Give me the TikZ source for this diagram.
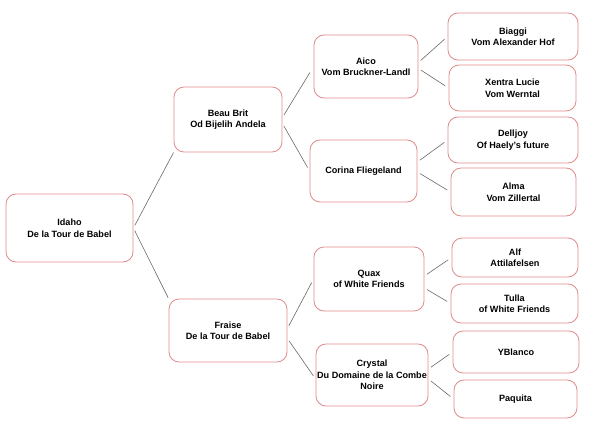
\documentclass[tikz,border=0pt]{standalone}
\usepackage{fontspec}
\setmainfont{Liberation Sans}
\usepackage{xcolor}
\usepackage{tikz}
\usetikzlibrary{calc}
\definecolor{boxred}{RGB}{224,140,140}
\definecolor{linkgrey}{RGB}{105,105,105}
\tikzset{
  dogbox/.style={draw=boxred,line width=0.85pt,rounded corners=10pt,fill=white,
    align=center,inner sep=0pt,
    font=\fontsize{9.1}{11.5}\selectfont\bfseries},
  link/.style={draw=linkgrey,line width=0.6pt,shorten <=3pt,shorten >=4pt}
}

\begin{document}
\begin{tikzpicture}[x=1pt,y=-1pt]
  \useasboundingbox (0,0) rectangle (595,424);
  % generation 1 and 2
  \node[dogbox,minimum width=127pt,minimum height=68pt] (idaho) at (69.5,228)
    {Idaho\\De la Tour de Babel};
  \node[dogbox,minimum width=108pt,minimum height=65pt] (beau) at (228,119.5)
    {Beau Brit\\Od Bijelih Andela};
  \node[dogbox,minimum width=118pt,minimum height=63pt] (fraise) at (228,330.5)
    {Fraise\\De la Tour de Babel};
  % generation 3
  \node[dogbox,minimum width=104pt,minimum height=63pt] (aico) at (366,66.5)
    {Aico\\Vom Bruckner-Landl};
  \node[dogbox,minimum width=107pt,minimum height=62pt] (corina) at (363.5,171)
    {Corina Fliegeland};
  \node[dogbox,minimum width=110pt,minimum height=64pt] (quax) at (369,279)
    {Quax\\of White Friends};
  \node[dogbox,minimum width=112pt,minimum height=62pt] (crystal) at (372,375)
    {Crystal\\Du Domaine de la Combe\\Noire};
  % generation 4
  \node[dogbox,minimum width=130pt,minimum height=47pt] (biaggi) at (513,36.5)
    {Biaggi\\Vom Alexander Hof};
  \node[dogbox,minimum width=127pt,minimum height=46pt] (xentra) at (512.5,88)
    {Xentra Lucie\\Vom Werntal};
  \node[dogbox,minimum width=130pt,minimum height=46pt] (delljoy) at (513,140)
    {Delljoy\\Of Haely's future};
  \node[dogbox,minimum width=125pt,minimum height=48pt] (alma) at (513.5,192)
    {Alma\\Vom Zillertal};
  \node[dogbox,minimum width=126pt,minimum height=39pt] (alf) at (515,257.5)
    {Alf\\Attilafelsen};
  \node[dogbox,minimum width=127pt,minimum height=39pt] (tulla) at (514.5,303.5)
    {Tulla\\of White Friends};
  \node[dogbox,minimum width=126pt,minimum height=42pt] (yblanco) at (516,352)
    {YBlanco};
  \node[dogbox,minimum width=123pt,minimum height=38pt] (paquita) at (515.5,399)
    {Paquita};
  % connectors
  \draw[link,shorten >=0pt] (idaho.east) -- (beau.south west);
  \draw[link,shorten >=1pt] (idaho.east) -- (fraise.north west);
  \draw[link,shorten >=7pt] ([yshift=2pt]beau.east) -- (aico.west);
  \draw[link] ([yshift=-4pt]beau.east) -- (corina.west);
  \draw[link] ([yshift=2pt]fraise.east) -- (quax.west);
  \draw[link] ([yshift=-8pt]fraise.east) -- ([yshift=-4pt]crystal.west);
  \draw[link] ([yshift=4pt]aico.east) -- (biaggi.west);
  \draw[link] ([yshift=-2pt]aico.east) -- (xentra.west);
  \draw[link] ([yshift=9pt]corina.east) -- (delljoy.west);
  \draw[link] ([yshift=-1pt]corina.east) -- (alma.west);
  \draw[link] ([yshift=3pt]quax.east) -- (alf.west);
  \draw[link] ([yshift=-9pt]quax.east) -- (tulla.west);
  \draw[link] ([yshift=6pt]crystal.east) -- (yblanco.west);
  \draw[link] ([yshift=-4pt]crystal.east) -- (paquita.west);
\end{tikzpicture}
\end{document}
